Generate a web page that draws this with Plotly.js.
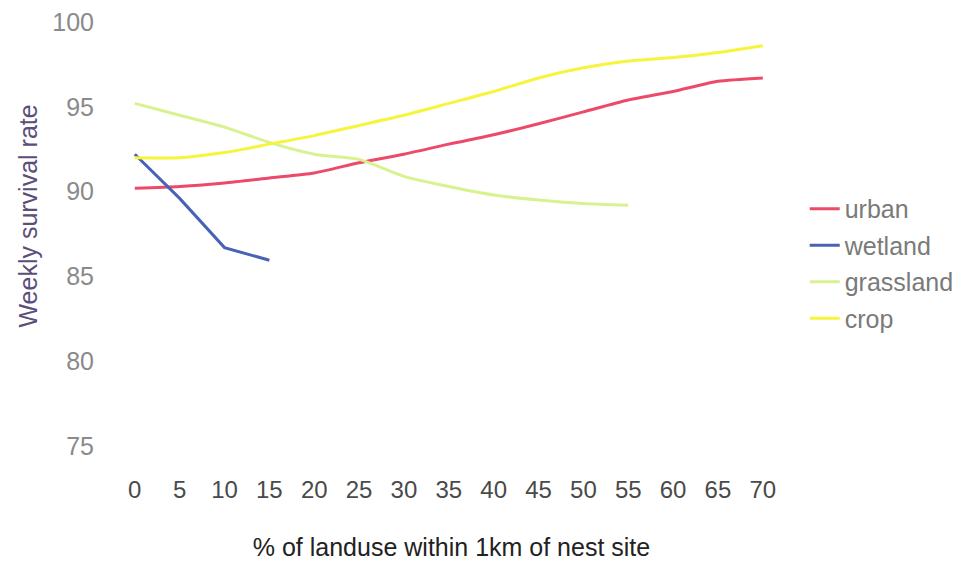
<!DOCTYPE html>
<html>
<head>
<meta charset="utf-8">
<script src="https://cdn.plot.ly/plotly-3.0.1.min.js"></script>
<style>html,body{margin:0;padding:0;background:#fff;}#chart{width:958px;height:569px;}</style>
</head>
<body>
<div id="chart"></div>
<script>
const landuse = [0, 5, 10, 15, 20, 25, 30, 35, 40, 45, 50, 55, 60, 65, 70];
const urban = [90.2, 90.3, 90.5, 90.8, 91.1, 91.7, 92.2, 92.8, 93.35, 94.0, 94.7, 95.4, 95.9, 96.5, 96.7];
const wetlandX = [0, 5, 10, 15];
const wetland = [92.2, 89.6, 86.7, 85.95];
const grasslandX = [0, 5, 10, 15, 20, 25, 30, 35, 40, 45, 50, 55];
const grassland = [95.2, 94.5, 93.8, 92.9, 92.2, 91.9, 90.9, 90.3, 89.8, 89.5, 89.3, 89.2];
const crop = [92.0, 92.0, 92.3, 92.8, 93.3, 93.9, 94.5, 95.2, 95.9, 96.7, 97.3, 97.7, 97.9, 98.2, 98.6];
const xTicks = [0, 5, 10, 15, 20, 25, 30, 35, 40, 45, 50, 55, 60, 65, 70];
const yTicks = [75, 80, 85, 90, 95, 100];

const font = "Liberation Sans, Arial, sans-serif";
function tr(name, x, y, color, shape) {
  return {type: 'scatter', mode: 'lines', name: name, x: x, y: y, legendgroup: name,
          line: {color: color, width: 3, shape: shape, smoothing: 0.6}};
}
const data = [
  tr('urban', landuse, urban, '#ec4a68', 'spline'),
  tr('wetland', wetlandX, wetland, '#4862b6', 'linear'),
  tr('grassland', grasslandX, grassland, '#d8f290', 'spline'),
  tr('crop', landuse, crop, '#f6f43c', 'spline')
];
const layout = {
  width: 958, height: 569,
  paper_bgcolor: '#ffffff', plot_bgcolor: '#ffffff',
  margin: {l: 133, r: 188, t: 5, b: 106},
  showlegend: true,
  legend: {xref: 'container', yref: 'container', x: 0.840, xanchor: 'left', y: 0.537, yanchor: 'middle',
           traceorder: 'grouped', tracegroupgap: 1,
           font: {family: font, size: 25, color: '#7a7a7a'}, itemwidth: 30},
  xaxis: {range: [-0.2, 70.8], tickmode: 'array', tickvals: xTicks, ticktext: xTicks.map(String),
          showgrid: false, zeroline: false, showline: false, ticks: '', ticklabelstandoff: 10,
          tickfont: {family: font, size: 24, color: '#4a4a4a'},
          title: {text: '% of landuse within 1km of nest site', font: {family: font, size: 25, color: '#222222'}, standoff: 36}},
  yaxis: {range: [74, 101], tickmode: 'array', tickvals: yTicks, ticktext: yTicks.map(String),
          showgrid: false, zeroline: false, showline: false, ticks: '', ticklabelstandoff: 38,
          tickfont: {family: font, size: 25, color: '#8a8a8a'}},
  annotations: [{text: 'Weekly survival rate', xref: 'paper', yref: 'paper', x: -0.165, y: 0.54,
                 xanchor: 'center', yanchor: 'middle', textangle: -90, showarrow: false,
                 font: {family: font, size: 25, color: '#5a4f7a'}}]
};
Plotly.newPlot('chart', data, layout, {displayModeBar: false, staticPlot: true});
</script>
</body>
</html>
